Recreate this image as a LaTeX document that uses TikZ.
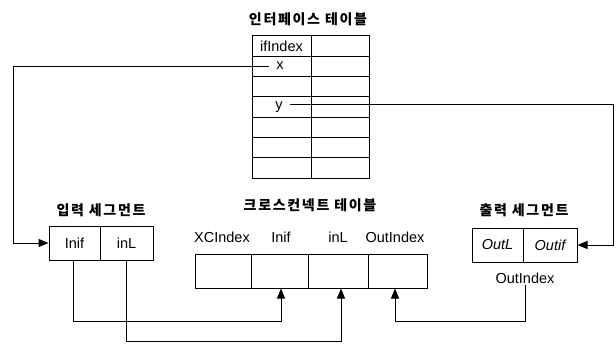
\documentclass[tikz,border=0pt]{standalone}
\usepackage{fontspec}
\setmainfont{Liberation Sans}
\newfontfamily\krfont[LetterSpace=12]{Noto Sans CJK KR}
\usetikzlibrary{arrows.meta,calc}
\begin{document}
\begin{tikzpicture}[x=1pt,y=-1pt,
  lbl/.style={font=\fontsize{14.5}{17}\selectfont, inner sep=1pt},
  title/.style={font=\krfont\bfseries\fontsize{14}{17}\selectfont, inner sep=0pt},
  cell/.style={draw, line width=1pt, inner sep=0pt, minimum height=20.3pt, font=\fontsize{14.5}{17}\selectfont},
  seg/.style={draw, line width=1pt, inner sep=0pt, minimum height=34pt, font=\fontsize{14.5}{17}\selectfont},
  conn/.style={line width=1pt},
  arr/.style={conn, -{Triangle[length=10pt,width=8pt]}}]
\useasboundingbox (0,0) rectangle (616,343);

% titles
\node[title] (t1) at (308,19) {인터페이스 테이블};
\node[title] (t2) at (101,210) {입력 세그먼트};
\node[title] (t3) at (310,205) {크로스컨넥트 테이블};
\node[title] (t4) at (524,210) {출력 세그먼트};

% interface table
\foreach \i in {1,...,7} {
  \node[cell, minimum width=59pt] (ia\i) at (281.5, {36+20.29*(\i-0.5)}) {};
  \node[cell, minimum width=58pt] (ib\i) at (340, {36+20.29*(\i-0.5)}) {};
}
\node[lbl] at (ia1) {ifIndex};
\node[lbl, inner xsep=7pt] (xlab) at (280,66) {x};
\node[lbl, inner xsep=7pt] (ylab) at (279,107) {y};

% input segment
\node[seg, minimum width=51pt] (in1) at (74.5,243) {Inif};
\node[seg, minimum width=53pt] (in2) at (126.5,243) {inL};

% output segment
\node[seg, minimum width=51pt] (out1) at (497.5,245) {\itshape OutL};
\node[seg, minimum width=54pt] (out2) at (550,245) {\itshape Outif};
\node[lbl] (oidx) at (525,278) {OutIndex};

% cross-connect table
\node[seg, minimum width=56pt] (cc1) at (223,271) {};
\node[seg, minimum width=57pt] (cc2) at (279.5,271) {};
\node[seg, minimum width=60pt] (cc3) at (338,271) {};
\node[seg, minimum width=59pt] (cc4) at (397.5,271) {};
\node[lbl] (h1) at (222,237) {XCIndex};
\node[lbl] (h2) at (281,237) {Inif};
\node[lbl] (h3) at (338,237) {inL};
\node[lbl] (h4) at (395,237) {OutIndex};

% helper coordinates
\coordinate (cL) at (13,0);
\coordinate (cR) at (613,0);
\coordinate (b1) at (0,321);
\coordinate (b2) at (0,341);
\coordinate (a2) at ($(cc2.south)+(1.5,0)$);
\coordinate (a3) at ($(cc3.south)+(3,0)$);
\coordinate (a4) at ($(cc4.south)+(-2.5,0)$);

% connectors
\draw[arr] (xlab.west) -- (xlab.west -| cL) |- (in1.west);
\draw[arr] ([yshift=3pt]ylab.east) -- ([yshift=3pt]ylab.east -| cR) |- (out2.east);
\draw[arr] ([xshift=-1.5pt]in1.south) |- (b1 -| a2) -- (a2);
\draw[arr] (in2.south) |- (b2 -| a3) -- (a3);
\draw[arr] (oidx.south) |- (b1 -| a4) -- (a4);
\end{tikzpicture}
\end{document}
